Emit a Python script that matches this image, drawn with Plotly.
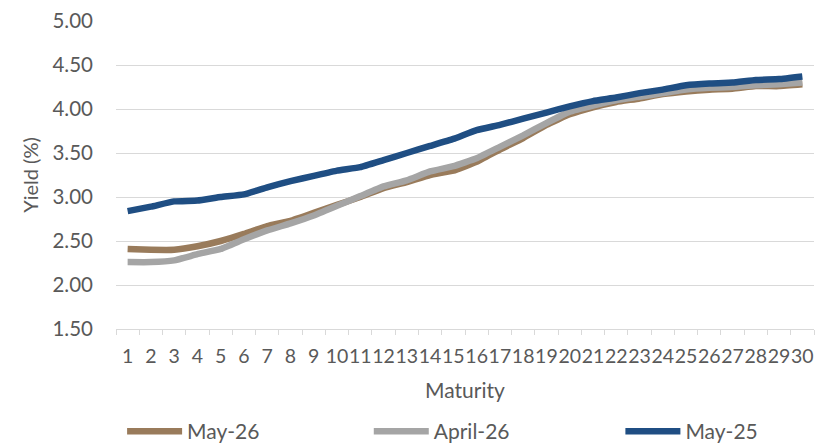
import plotly.graph_objects as go

maturity = [str(i) for i in range(1, 31)]

may_26 = [2.41, 2.40, 2.40, 2.44, 2.50, 2.58, 2.67, 2.73, 2.82, 2.91,
          3.00, 3.10, 3.17, 3.25, 3.30, 3.40, 3.54, 3.67, 3.82, 3.94,
          4.02, 4.08, 4.12, 4.17, 4.20, 4.22, 4.23, 4.26, 4.26, 4.28]

april_26 = [2.26, 2.26, 2.28, 2.35, 2.41, 2.52, 2.62, 2.70, 2.79, 2.90,
            3.01, 3.12, 3.19, 3.29, 3.35, 3.44, 3.57, 3.70, 3.84, 3.97,
            4.04, 4.10, 4.14, 4.18, 4.22, 4.24, 4.25, 4.27, 4.28, 4.30]

may_25 = [2.84, 2.89, 2.95, 2.96, 3.00, 3.03, 3.11, 3.18, 3.24, 3.30,
          3.34, 3.42, 3.50, 3.58, 3.66, 3.76, 3.82, 3.89, 3.96, 4.03,
          4.09, 4.13, 4.18, 4.22, 4.27, 4.29, 4.30, 4.33, 4.34, 4.37]

y_ticks = [1.5, 2.0, 2.5, 3.0, 3.5, 4.0, 4.5, 5.0]

series = [
    ("May-26", may_26, "#997B5B", "legend"),
    ("April-26", april_26, "#A5A5A5", "legend2"),
    ("May-25", may_25, "#1F4E83", "legend3"),
]

FONT = "Lato, 'Open Sans', sans-serif"
TEXT = "#595959"
GRID = "#D9D9D9"

fig = go.Figure()
for name, vals, color, leg in series:
    fig.add_trace(go.Scatter(
        x=maturity, y=vals, name=name, mode="lines", legend=leg,
        line=dict(color=color, width=6.5, shape="spline", smoothing=0.3),
    ))


def legend_at(x):
    # one legend box per series so the entries sit at fixed spots along the bottom
    return dict(
        orientation="h", xref="container", yref="container",
        x=x, y=0.026, xanchor="left", yanchor="middle",
        font=dict(size=21, color=TEXT), itemwidth=55,
        bgcolor="rgba(0,0,0,0)",
    )


fig.update_layout(
    width=825, height=443,
    margin=dict(l=116, r=11, t=21, b=114),
    paper_bgcolor="white", plot_bgcolor="white",
    font=dict(family=FONT, size=15, color=TEXT),
    showlegend=True,
    legend=legend_at(0.148),
    legend2=legend_at(0.447),
    legend3=legend_at(0.752),
    xaxis=dict(
        type="category", tickson="boundaries", ticks="outside",
        ticklen=5, tickcolor=GRID, showgrid=False, tickangle=0,
        showline=True, linecolor=GRID, linewidth=1, automargin=False,
        tickfont=dict(size=19.5, color=TEXT), ticklabelstandoff=10,
        title=dict(text="Maturity", font=dict(size=21, color=TEXT), standoff=16),
        range=[-0.5, 29.5],
    ),
    yaxis=dict(
        range=[1.5, 5.0], tickvals=y_ticks, automargin=False,
        tickformat=".2f", showgrid=True, gridcolor=GRID, gridwidth=1,
        zeroline=False, showline=False,
        tickfont=dict(size=20.5, color=TEXT),
        ticklabelstandoff=22,
        title=dict(text="Yield (%)", font=dict(size=20, color=TEXT), standoff=8),
    ),
)

fig.write_html("out.html")
